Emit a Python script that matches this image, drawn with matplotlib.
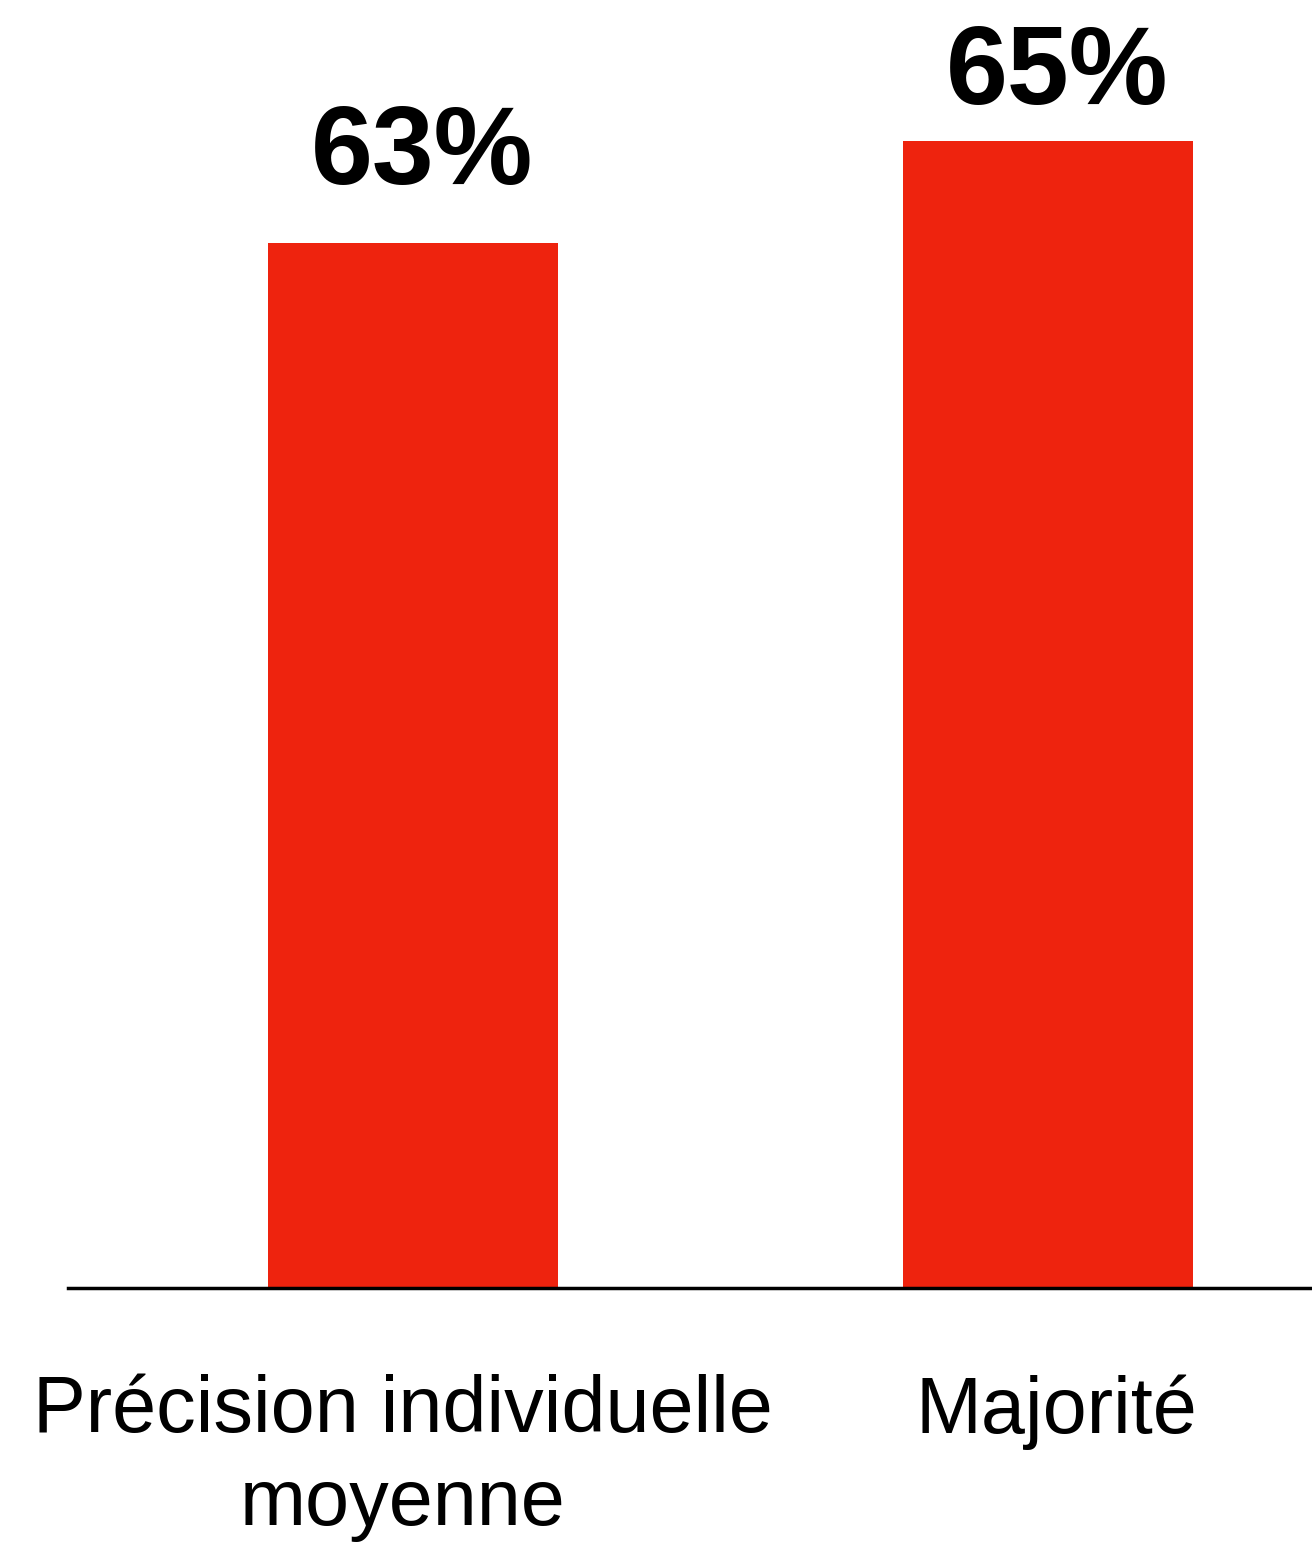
import matplotlib.pyplot as plt
import matplotlib.transforms as mtransforms

# data
categories = ["Précision individuelle\nmoyenne", "Majorité"]
values = [63, 65]
value_labels = ["63%", "65%"]

plt.rcParams['font.family'] = ['Liberation Sans', 'DejaVu Sans']

fig = plt.figure(figsize=(13.12, 15.49), dpi=100)
ax = fig.add_axes([68 / 1312, 1 - 1288 / 1549, 1 - 68 / 1312, 1288 / 1549])

x = range(len(categories))
bars = ax.bar(x, values, width=0.457, color="#EE230E")

ax.set_xlim(-0.543, 1.416)
ax.set_ylim(42.5, 67.76)

# value labels above bars
offsets = [26, 10]
for b, lab, off in zip(bars, value_labels, offsets):
    ax.annotate(lab, (b.get_x() + b.get_width() / 2 + 0.014, b.get_height()),
                xytext=(0, off), textcoords="offset points",
                ha="center", va="bottom", fontsize=80, fontweight="bold")

ax.set_xticks(list(x))
ax.set_xticklabels(categories, fontsize=57, linespacing=1.3)
ax.tick_params(axis="x", length=0, pad=62)
ax.set_yticks([])

# small horizontal nudges of the category labels
shifts = [-10, 9]
for lab, dx in zip(ax.get_xticklabels(), shifts):
    lab.set_transform(lab.get_transform() +
                      mtransforms.ScaledTranslation(dx / 100, 0, fig.dpi_scale_trans))

for s in ["top", "right", "left"]:
    ax.spines[s].set_visible(False)
ax.spines["bottom"].set_linewidth(2.5)

fig.savefig("out.png", dpi=100)
